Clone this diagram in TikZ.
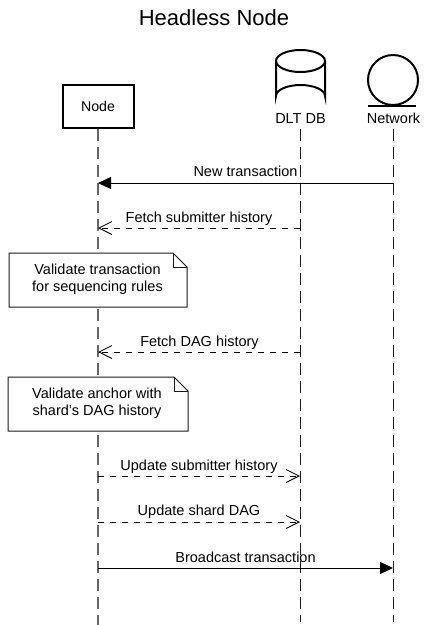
\documentclass[tikz,border=0pt]{standalone}
\usepackage{fontspec}
\setmainfont{Liberation Sans}
\usetikzlibrary{arrows.meta,calc}
\definecolor{ln}{gray}{0.1}
\definecolor{lngray}{gray}{0.4}
\tikzset{
  life/.style={draw=ln,line width=1pt,dash pattern=on 11.5pt off 6.5pt},
  solidmsg/.style={draw=black,line width=1pt,-{Triangle[length=13pt,width=12pt]}},
  dashmsg/.style={draw=black,line width=1pt,dash pattern=on 6pt off 6pt,-{Straight Barb[length=13pt,width=13pt,line width=.8pt]}},
  lbl/.style={font=\fontsize{14.5}{17}\selectfont,inner sep=0pt,anchor=base},
  note/.style={draw=ln,line width=1pt,fill=white},
  heavy/.style={draw=black,line width=2pt},
}
\begin{document}
\begin{tikzpicture}[x=1pt,y=-1pt]
\useasboundingbox (0,0) rectangle (428,625);
\fill[white] (0,0) rectangle (428,625);
\node[inner sep=0pt,font=\fontsize{22}{25}\selectfont] (title) at (214,18) {Headless Node};
% coordinates
\coordinate (nodeEnd) at (98,625);
\coordinate (dbEnd) at (300,622);
\coordinate (netEnd) at (393,622);
\node[heavy,minimum width=71pt,minimum height=43pt,inner sep=0pt,font=\fontsize{14.2}{17}\selectfont] (node) at (98,106.5) {Node};
\node[lbl] (db) at (300.5,123) {DLT DB};
\node[lbl] (net) at (393.5,123) {Network};
% lifelines
\coordinate (dbTop) at (300,129);
\coordinate (netTop) at (393,129);
\draw[life,draw=lngray,line width=1.5pt] (node.south) -- (nodeEnd);
\draw[life] (dbTop) -- (dbEnd);
\draw[life] (netTop) -- (netEnd);
% cylinder
\draw[heavy,fill=white] (276,61) -- (276,96) arc[x radius=24.5,y radius=11,start angle=180,end angle=360] -- (325,61);
\draw[heavy] (300.5,61) ellipse[x radius=24.5,y radius=11];
% network
\draw[heavy] (393,80) circle[radius=25];
\draw[heavy] (368,105.5) -- (416,105.5);
% messages
\foreach \n/\y in {a/183,b/228,c/352,d/476,e/522,f/568}{
  \coordinate (N\n) at (98,\y);
  \coordinate (D\n) at (300,\y);
  \coordinate (K\n) at (393,\y);
}
\draw[solidmsg] (Ka) -- (Na);
\draw[dashmsg] (Db) -- (Nb);
\draw[dashmsg] (Dc) -- (Nc);
\draw[dashmsg] (Nd) -- (Dd);
\draw[dashmsg] (Ne) -- (De);
\draw[solidmsg] (Nf) -- (Kf);
\node[lbl] (la) at (245.5,176) {New transaction};
\node[lbl] (lb) at (199,222) {Fetch submitter history};
\node[lbl] (lc) at (199.5,346) {Fetch DAG history};
\node[lbl] (ld) at (199,470) {Update submitter history};
\node[lbl] (le) at (199,515.5) {Update shard DAG};
\node[lbl] (lf) at (245.5,562) {Broadcast transaction};
% notes
\draw[note] (9,253) -- (173,253) -- (187,267) -- (187,307) -- (9,307) -- cycle;
\draw[draw=ln,line width=1pt] (173,253) -- (173,267) -- (187,267);
\node[align=center,inner sep=0pt,font=\fontsize{14.5}{17}\selectfont] (n1) at (97.5,279.5) {Validate transaction\\for sequencing rules};
\draw[note] (8,377) -- (174,377) -- (188,391) -- (188,431) -- (8,431) -- cycle;
\draw[draw=ln,line width=1pt] (174,377) -- (174,391) -- (188,391);
\node[align=center,inner sep=0pt,font=\fontsize{14.5}{17}\selectfont] (n2) at (97,403.5) {Validate anchor with\\shard's DAG history};
\end{tikzpicture}
\end{document}
